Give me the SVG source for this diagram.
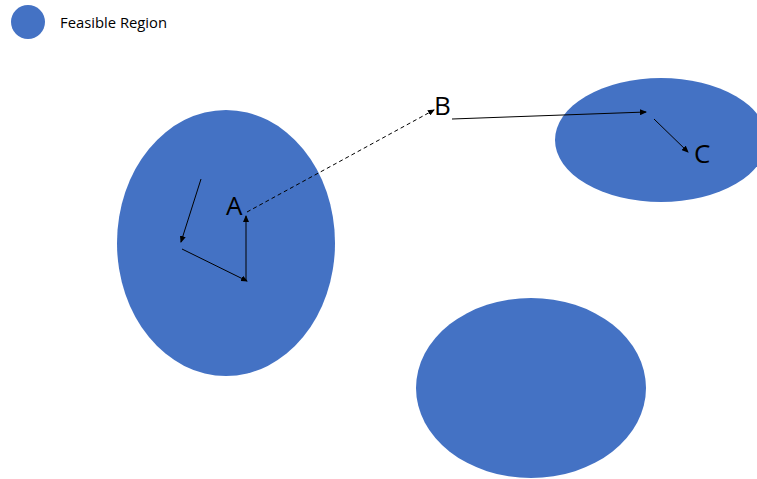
<svg xmlns="http://www.w3.org/2000/svg" width="757" height="479" viewBox="0 0 757 479">
<style>
.region{fill:#4472C4}
.lbl{font-family:"Open Sans","Liberation Sans",sans-serif;fill:#000}
.conn line{stroke:#000;stroke-width:1;marker-end:url(#ah)}
.dash{stroke-dasharray:4,3}
</style>
<defs>
<marker id="ah" markerWidth="7" markerHeight="6" refX="6" refY="3" orient="auto" markerUnits="userSpaceOnUse">
<path d="M0,0 L7,3 L0,6 Z" fill="#000"/>
</marker>
</defs>
<rect width="757" height="479" fill="#fff"/>
<g id="legend">
<circle class="region" cx="28" cy="22" r="17"/>
<text class="lbl" x="60" y="28" font-size="14.8">Feasible Region</text>
</g>
<g id="region-left"><ellipse class="region" cx="226" cy="243" rx="109" ry="133"/></g>
<g id="region-topright"><ellipse class="region" cx="661" cy="140" rx="106" ry="62"/></g>
<g id="region-bottom"><ellipse class="region" cx="531" cy="388" rx="115" ry="90"/></g>
<g id="node-A"><text class="lbl" x="226" y="215" font-size="26">A</text></g>
<g id="node-B"><text class="lbl" x="434" y="115" font-size="26">B</text></g>
<g id="node-C"><text class="lbl" x="694" y="163" font-size="26">C</text></g>
<g class="conn" id="connectors">
<line x1="201" y1="179" x2="181" y2="242"/>
<line x1="182" y1="249" x2="247" y2="281"/>
<line x1="246" y1="281" x2="246" y2="216"/>
<line class="dash" x1="247" y1="212" x2="434" y2="110"/>
<line x1="452" y1="119" x2="646" y2="112"/>
<line x1="654" y1="119" x2="688" y2="152"/>
</g>
</svg>
